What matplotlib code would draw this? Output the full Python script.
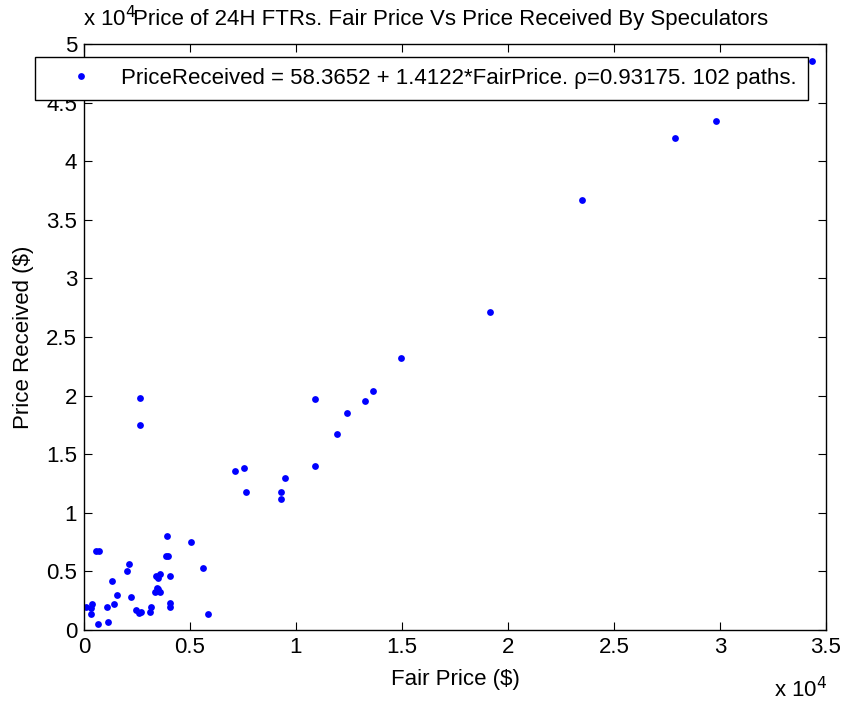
import numpy as np
import matplotlib.pyplot as plt
from matplotlib.ticker import FuncFormatter

plt.rcParams['font.family'] = ['Liberation Sans', 'DejaVu Sans']

# fair price vs price received (units of 1e4 $)
fair = [0.262, 0.262, 0.714, 0.755, 0.764, 0.391, 0.506, 0.055, 0.071, 0.386,
        0.394, 0.213, 0.205, 0.561, 0.132, 0.358, 0.342, 0.351, 0.408, 0.156,
        0.221, 0.344, 0.351, 0.336, 0.359, 0.140, 0.036, 0.008, 0.032, 0.107,
        0.035, 0.068, 0.115, 0.244, 0.260, 0.271, 0.318, 0.311, 0.408, 0.408,
        0.586, 1.913, 1.493, 1.089, 1.363, 1.324, 1.242, 1.193, 1.089, 0.950,
        0.927, 0.927, 3.433, 2.980, 2.787, 2.351]
received = [1.983, 1.750, 1.353, 1.382, 1.177, 0.798, 0.752, 0.678, 0.678, 0.635,
            0.635, 0.564, 0.504, 0.533, 0.416, 0.479, 0.459, 0.444, 0.459, 0.299,
            0.282, 0.356, 0.350, 0.328, 0.328, 0.225, 0.225, 0.197, 0.191, 0.197,
            0.137, 0.048, 0.066, 0.168, 0.142, 0.154, 0.197, 0.154, 0.228, 0.194,
            0.137, 2.715, 2.319, 1.968, 2.040, 1.952, 1.852, 1.675, 1.396, 1.293,
            1.177, 1.117, 4.852, 4.342, 4.194, 3.667]
fair = np.array(fair) * 1e4
received = np.array(received) * 1e4

label = 'PriceReceived = 58.3652 + 1.4122*FairPrice. \u03c1=0.93175. 102 paths.'
fs = 16

fig = plt.figure(figsize=(8.44, 7.04), dpi=100)
ax = fig.add_axes([0.0995, 0.1051, 0.8792, 0.8324])

ax.plot(fair, received, 'o', color='#0000ff', markersize=4.9, markeredgewidth=0, label=label)

ax.set_xlim(0, 3.5e4)
ax.set_ylim(0, 5e4)
ax.set_xticks(np.arange(0, 3.51e4, 0.5e4))
ax.set_yticks(np.arange(0, 5.01e4, 0.5e4))
fmt = FuncFormatter(lambda v, p: ('%g' % (v / 1e4)))
ax.xaxis.set_major_formatter(fmt)
ax.yaxis.set_major_formatter(fmt)
ax.tick_params(direction='in', length=5.5, width=0.8, labelsize=fs, top=True, right=True, pad=5)
for s in ax.spines.values():
    s.set_linewidth(1.0)

ax.set_xlabel('Fair Price ($)', fontsize=fs, labelpad=8)
ax.set_ylabel('Price Received ($)', fontsize=fs, labelpad=9)

fig.text(0.534, 0.957, 'Price of 24H FTRs. Fair Price Vs Price Received By Speculators',
         ha='center', va='bottom', fontsize=fs)
fig.text(0.098, 0.955, 'x 10$^4$', ha='left', va='bottom', fontsize=fs)
fig.text(0.917, 0.002, 'x 10$^4$', ha='left', va='bottom', fontsize=fs)

leg = ax.legend(loc='upper right', bbox_to_anchor=(0.976, 0.978), fontsize=fs,
                fancybox=False, framealpha=1, edgecolor='black', borderaxespad=0,
                handlelength=3.2, handletextpad=0.2, borderpad=0.5, numpoints=1)
leg.get_frame().set_linewidth(1.0)

fig.savefig('out.png', dpi=100)
